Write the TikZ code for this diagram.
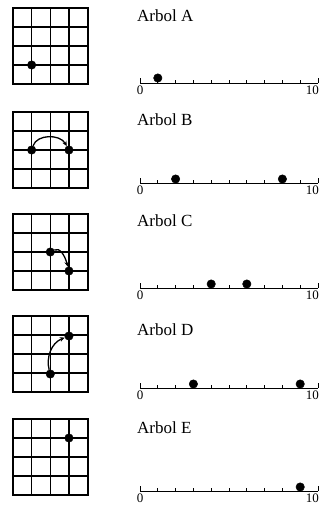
\documentclass[tikz,border=0pt]{standalone}
\usepackage{fontspec}
\setmainfont{Liberation Serif}
\usetikzlibrary{arrows.meta}

\tikzset{
	griddot/.style={draw,circle,inner sep=0pt,minimum size=8.5pt,fill,black},
	linedot/.style={draw,circle,inner sep=0pt,minimum size=8.5pt,fill,black},
	treetitle/.style={anchor=base west,inner sep=0pt,font=\fontsize{17}{20}\selectfont},
	numlabel/.style={anchor=north,inner sep=0pt,font=\fontsize{13}{14}\selectfont},
	move/.style={line width=1.3pt,-{Stealth[length=5pt,width=4.5pt]}},
}

\begin{document}
\begin{tikzpicture}[x=1pt,y=-1pt]
	\useasboundingbox (0,0) rectangle (326,508);
	
	% Grid, title and number line of each tree
	\foreach \name/\top/\liney/\titley in {A/8/83/22,B/112/183/125,C/214/288/226,D/316/388/335,E/419/491/433}{%
		\foreach \i in {1,2,3}{% inner grid lines
			\draw[line width=1.2pt] (13+18.65*\i,\top) -- ++(0,76);
			\draw[line width=1.2pt] (13,\top+19*\i) -- ++(74.6,0);
		}
		\draw[line width=1.8pt] (13,\top) rectangle (87.6,\top+76);
		\node[treetitle] (title\name) at (137,\titley) {Arbol \name};
		% number line from 0 to 10
		\draw[line width=0.9pt] (140,\liney) -- (318,\liney);
		\foreach \t in {1,...,9}{% small ticks
			\draw[line width=0.8pt] (140+17.8*\t,\liney) -- ++(0,-3);
		}
		\draw[line width=0.8pt] (140,\liney) -- ++(0,-5);
		\draw[line width=0.8pt] (318,\liney) -- ++(0,-5);
		\node[numlabel] (zero\name) at (140,\liney+3) {0};
		\node[numlabel,anchor=north east] (ten\name) at (319,\liney+3) {10};
	}
	
	% Arbol A
	\node[griddot] (a1) at (31.65,65) {};
	\node[linedot] (na1) at (157.8,78) {};
	
	% Arbol B
	\node[griddot] (b1) at (31.65,150) {};
	\node[griddot] (b2) at (68.95,150) {};
	\draw[move] (b1) .. controls (37,134) and (60,134) .. (b2);
	\node[linedot] (nb1) at (175.6,179) {};
	\node[linedot] (nb2) at (282.4,179) {};
	
	% Arbol C
	\node[griddot] (c1) at (50.3,252) {};
	\node[griddot] (c2) at (68.95,271) {};
	\draw[move] (c1) .. controls (60,247) and (65,256) .. (c2);
	\node[linedot] (nc1) at (211.2,284) {};
	\node[linedot] (nc2) at (246.8,284) {};
	
	% Arbol D
	\node[griddot] (d1) at (50.3,374) {};
	\node[griddot] (d2) at (68.95,336) {};
	\draw[move] (d1) .. controls (46,358) and (51,343) .. (d2);
	\node[linedot] (nd1) at (193.4,384) {};
	\node[linedot] (nd2) at (300.2,384) {};
	
	% Arbol E
	\node[griddot] (e1) at (68.95,438) {};
	\node[linedot] (ne1) at (300.2,487) {};
	
\end{tikzpicture}
\end{document}
